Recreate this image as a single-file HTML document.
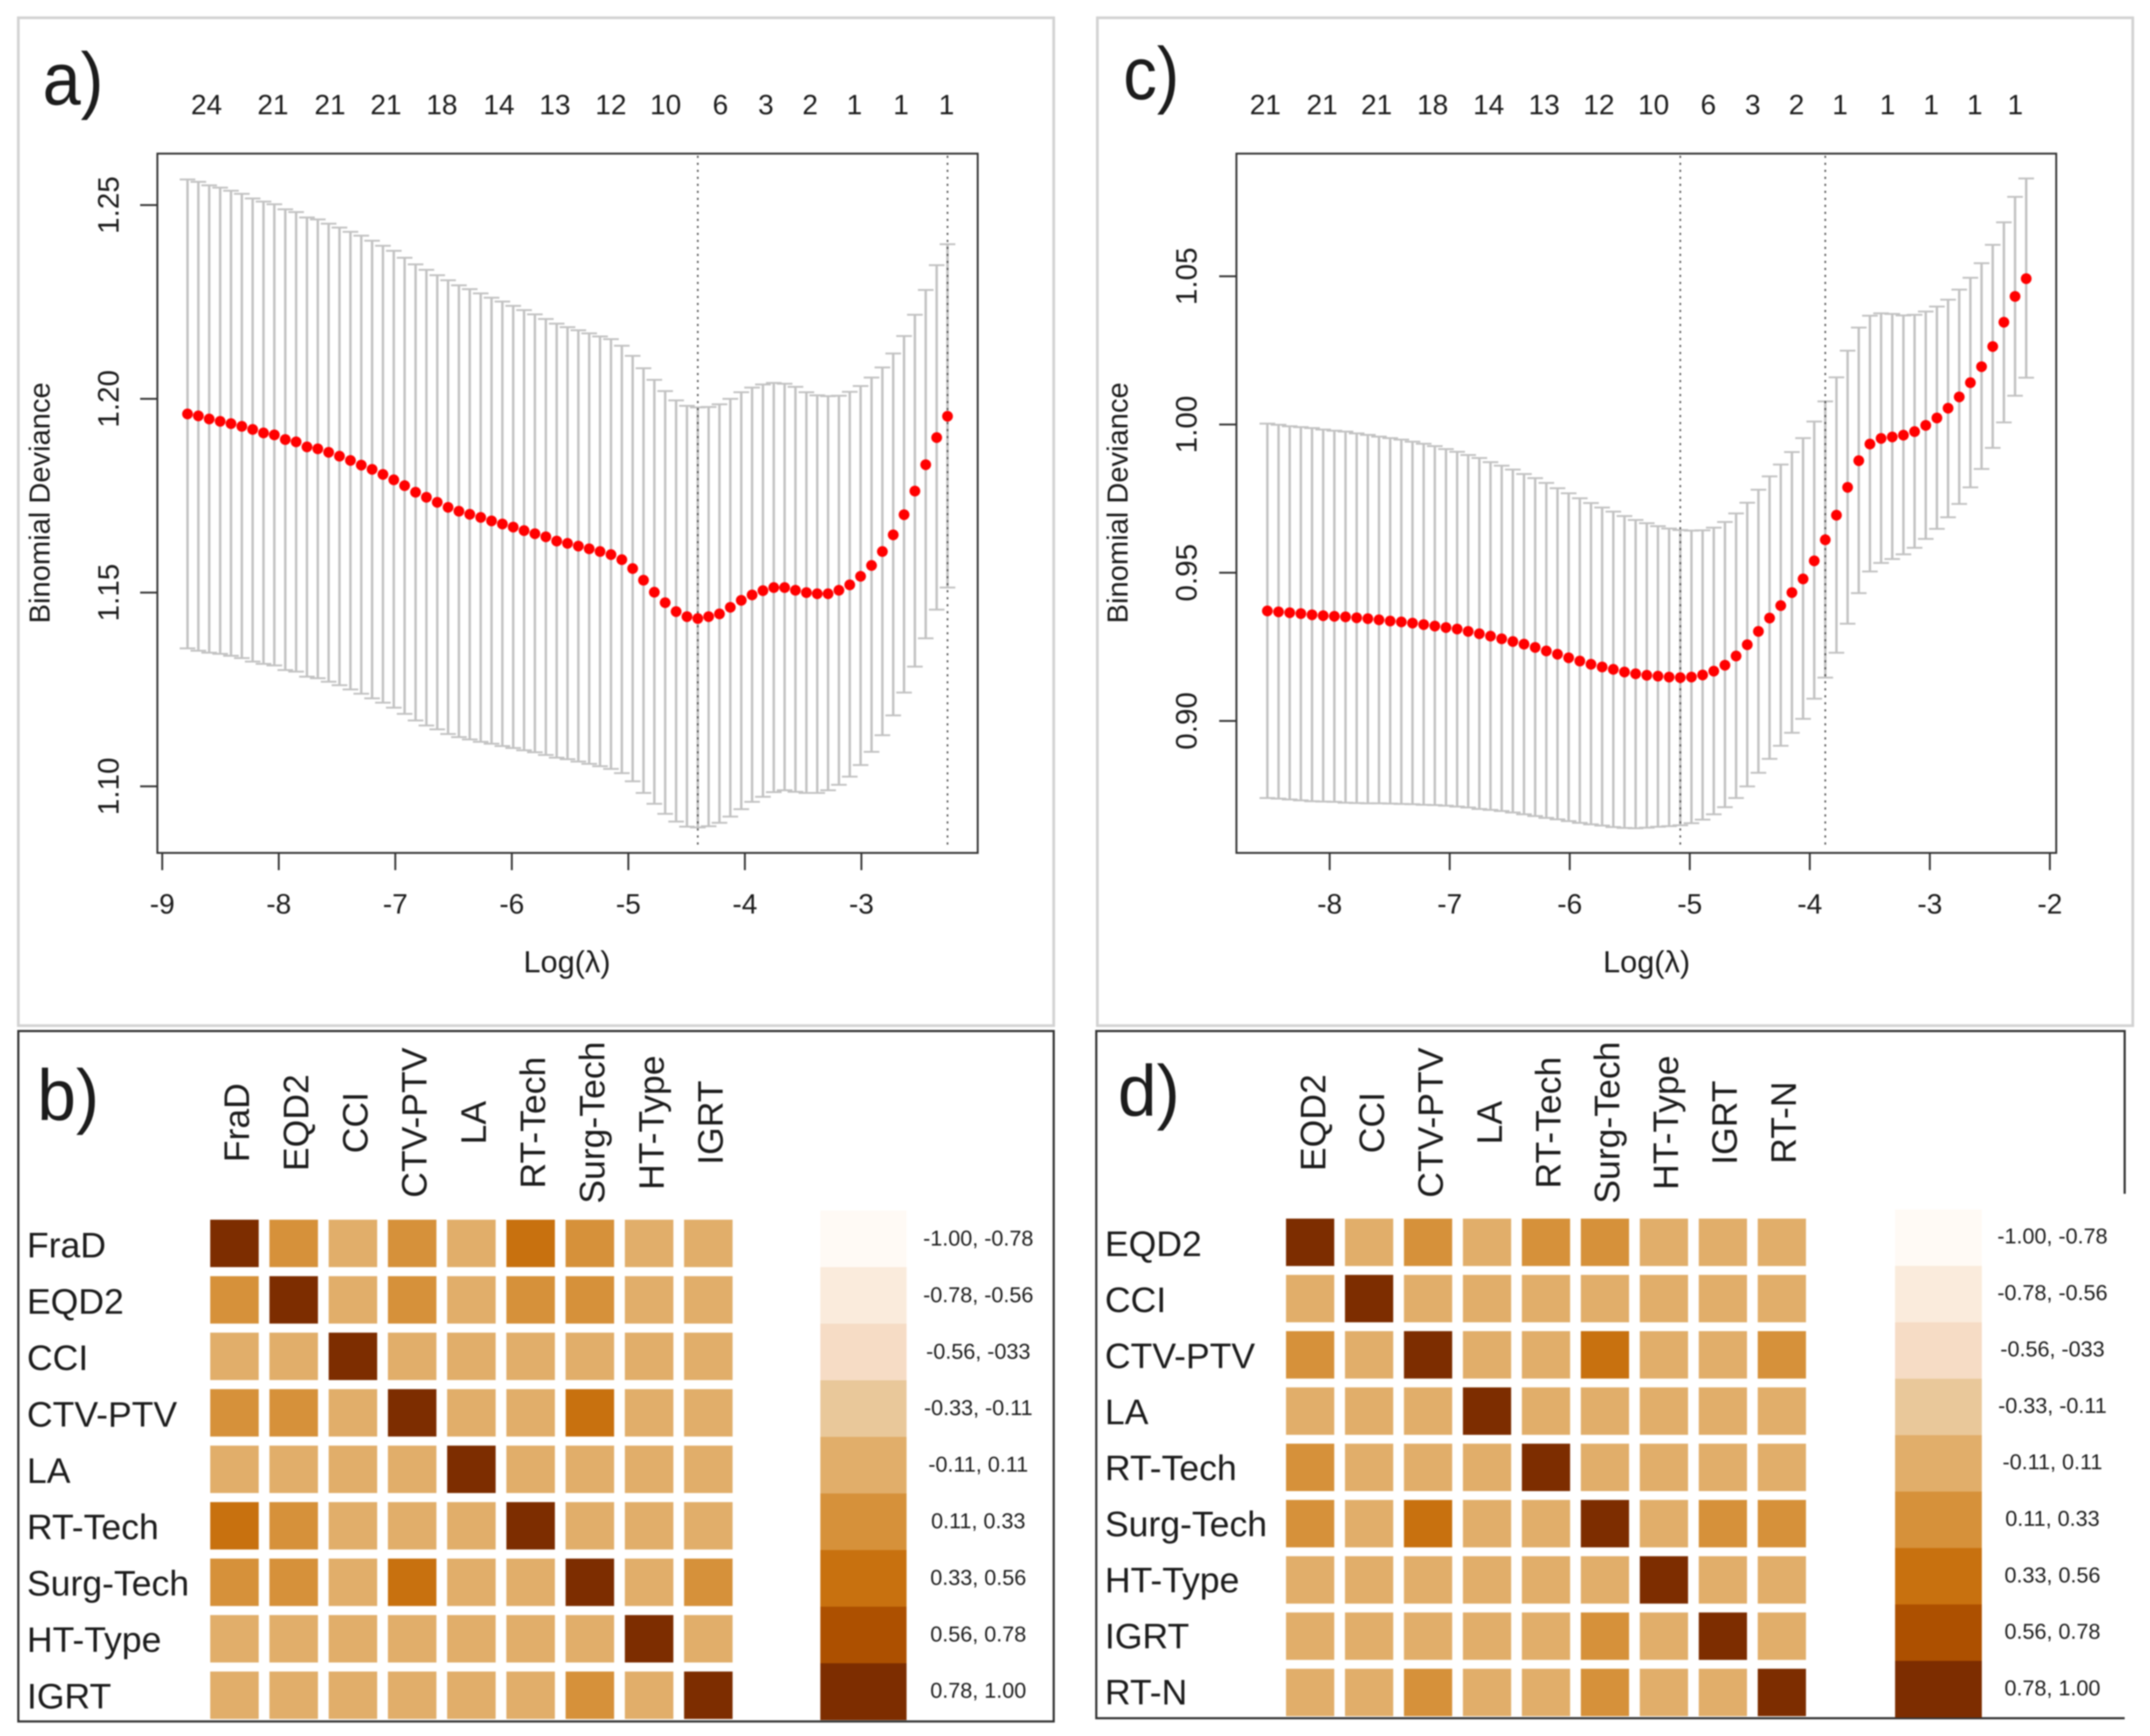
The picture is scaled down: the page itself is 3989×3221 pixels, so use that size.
<!DOCTYPE html>
<html lang="en">
<head>
<meta charset="utf-8">
<title>Lasso cross-validation curves and correlation matrices</title>
<style>
html,body{margin:0;padding:0;background:#fff;width:3989px;height:3221px;overflow:hidden}
svg{display:block;filter:blur(1.4px)}
text{font-family:"Liberation Sans",sans-serif;fill:#1c1c1c}
</style>
</head>
<body>
<svg id="figure" xmlns="http://www.w3.org/2000/svg" width="3989" height="3221" viewBox="0 0 3989 3221">
  <rect x="0" y="0" width="3989" height="3221" fill="#fff"/>
  <rect x="34" y="33" width="1921" height="1870" fill="#fff" stroke="#d2d2d2" stroke-width="5"/>
  <rect x="2036" y="33" width="1921" height="1870" fill="#fff" stroke="#d2d2d2" stroke-width="5"/>
  <rect x="34" y="1913" width="1921" height="1281" fill="#fff" stroke="#333" stroke-width="4"/>
  <path d="M3942 2215V1913H2034V3188H3942" fill="#fff" stroke="#333" stroke-width="4"/>
  <text x="79" y="194" font-size="138" textLength="113" lengthAdjust="spacingAndGlyphs">a)</text>
  <text x="2084" y="184" font-size="138" textLength="104" lengthAdjust="spacingAndGlyphs">c)</text>
  <text x="69" y="2078" font-size="134" textLength="115" lengthAdjust="spacingAndGlyphs">b)</text>
  <text x="2074" y="2070" font-size="134" textLength="115" lengthAdjust="spacingAndGlyphs">d)</text>
  <g id="chart-a"></g>
  <g id="chart-c"></g>
  <g id="heat-b"></g>
  <g id="heat-d"></g>
</svg>
<script>
// ---------- Panel a data ----------
const aLogLambda = [-8.783,-8.690,-8.597,-8.503,-8.410,-8.317,-8.224,-8.131,-8.038,-7.944,-7.851,-7.758,-7.665,-7.572,-7.479,-7.385,-7.292,-7.199,-7.106,-7.013,-6.920,-6.826,-6.733,-6.640,-6.547,-6.454,-6.361,-6.267,-6.174,-6.081,-5.988,-5.895,-5.802,-5.708,-5.615,-5.522,-5.429,-5.336,-5.243,-5.149,-5.056,-4.963,-4.870,-4.777,-4.684,-4.590,-4.497,-4.404,-4.311,-4.218,-4.125,-4.031,-3.938,-3.845,-3.752,-3.659,-3.566,-3.472,-3.379,-3.286,-3.193,-3.100,-3.007,-2.913,-2.820,-2.727,-2.634,-2.541,-2.448,-2.354,-2.261];
const aMean = [1.1961,1.1956,1.1948,1.1942,1.1936,1.1929,1.1921,1.1912,1.1907,1.1895,1.1889,1.1876,1.1871,1.1862,1.1852,1.1841,1.1829,1.1818,1.1805,1.1791,1.1776,1.1759,1.1746,1.1733,1.1720,1.1710,1.1702,1.1694,1.1685,1.1677,1.1669,1.1660,1.1652,1.1644,1.1633,1.1627,1.1620,1.1613,1.1606,1.1598,1.1585,1.1562,1.1532,1.1501,1.1474,1.1451,1.1438,1.1433,1.1438,1.1445,1.1462,1.1480,1.1494,1.1505,1.1513,1.1513,1.1506,1.1500,1.1497,1.1497,1.1506,1.1520,1.1542,1.1570,1.1606,1.1649,1.1701,1.1762,1.1830,1.1900,1.1955];
const aUpper = [1.2566,1.2560,1.2551,1.2545,1.2537,1.2529,1.2517,1.2509,1.2502,1.2489,1.2482,1.2468,1.2463,1.2452,1.2442,1.2431,1.2421,1.2408,1.2395,1.2382,1.2364,1.2347,1.2333,1.2319,1.2306,1.2293,1.2283,1.2272,1.2261,1.2251,1.2240,1.2229,1.2218,1.2206,1.2194,1.2185,1.2177,1.2169,1.2161,1.2154,1.2137,1.2111,1.2079,1.2049,1.2020,1.1996,1.1982,1.1978,1.1979,1.1986,1.2000,1.2017,1.2029,1.2037,1.2041,1.2039,1.2031,1.2017,1.2009,1.2007,1.2008,1.2018,1.2033,1.2055,1.2081,1.2117,1.2162,1.2217,1.2281,1.2345,1.2399];
const aLower = [1.1356,1.1350,1.1345,1.1342,1.1337,1.1331,1.1322,1.1316,1.1312,1.1300,1.1296,1.1283,1.1279,1.1270,1.1261,1.1250,1.1239,1.1227,1.1216,1.1203,1.1187,1.1170,1.1157,1.1147,1.1135,1.1127,1.1121,1.1115,1.1110,1.1104,1.1099,1.1093,1.1088,1.1081,1.1074,1.1070,1.1064,1.1058,1.1052,1.1045,1.1034,1.1013,1.0983,1.0955,1.0929,1.0909,1.0896,1.0894,1.0897,1.0906,1.0922,1.0941,1.0960,1.0973,1.0985,1.0990,1.0986,1.0983,1.0983,1.0990,1.1004,1.1025,1.1055,1.1089,1.1132,1.1183,1.1242,1.1309,1.1382,1.1456,1.1513];
const aXTicks = [-9,-8,-7,-6,-5,-4,-3];
const aYTicks = [1.10,1.15,1.20,1.25];
const aTopAt = [-8.62,-8.05,-7.56,-7.08,-6.60,-6.11,-5.63,-5.15,-4.68,-4.21,-3.82,-3.44,-3.06,-2.66,-2.27];
const aTopCounts = [24,21,21,21,18,14,13,12,10,6,3,2,1,1,1];
const aVLines = [-4.404,-2.261];

// ---------- Panel c data ----------
const cLogLambda = [-8.519,-8.426,-8.333,-8.240,-8.147,-8.054,-7.961,-7.868,-7.775,-7.682,-7.589,-7.496,-7.403,-7.310,-7.217,-7.124,-7.031,-6.938,-6.846,-6.753,-6.660,-6.567,-6.474,-6.381,-6.288,-6.195,-6.102,-6.009,-5.916,-5.823,-5.730,-5.637,-5.544,-5.451,-5.358,-5.265,-5.172,-5.079,-4.986,-4.893,-4.800,-4.707,-4.614,-4.521,-4.428,-4.335,-4.242,-4.149,-4.056,-3.963,-3.871,-3.778,-3.685,-3.592,-3.499,-3.406,-3.313,-3.220,-3.127,-3.034,-2.941,-2.848,-2.755,-2.662,-2.569,-2.476,-2.383,-2.290,-2.197];
const cMean = [0.9371,0.9368,0.9365,0.9362,0.9358,0.9355,0.9353,0.9351,0.9348,0.9345,0.9341,0.9337,0.9334,0.9330,0.9325,0.9320,0.9315,0.9310,0.9302,0.9294,0.9286,0.9277,0.9268,0.9259,0.9248,0.9236,0.9225,0.9213,0.9202,0.9191,0.9182,0.9174,0.9165,0.9159,0.9154,0.9151,0.9148,0.9146,0.9148,0.9155,0.9168,0.9188,0.9219,0.9257,0.9302,0.9347,0.9389,0.9433,0.9479,0.9540,0.9611,0.9694,0.9788,0.9878,0.9934,0.9953,0.9958,0.9964,0.9976,0.9997,1.0022,1.0055,1.0093,1.0141,1.0195,1.0263,1.0345,1.0432,1.0492];
const cUpper = [1.0003,0.9999,0.9994,0.9991,0.9988,0.9983,0.9979,0.9976,0.9970,0.9965,0.9959,0.9954,0.9949,0.9942,0.9935,0.9927,0.9917,0.9908,0.9897,0.9887,0.9873,0.9861,0.9848,0.9833,0.9819,0.9803,0.9785,0.9768,0.9751,0.9735,0.9720,0.9706,0.9691,0.9678,0.9667,0.9657,0.9649,0.9644,0.9642,0.9643,0.9652,0.9671,0.9700,0.9736,0.9780,0.9825,0.9865,0.9907,0.9954,1.0010,1.0078,1.0159,1.0249,1.0327,1.0367,1.0375,1.0373,1.0368,1.0370,1.0381,1.0398,1.0421,1.0455,1.0495,1.0544,1.0606,1.0682,1.0768,1.0830];
const cLower = [0.8740,0.8738,0.8735,0.8732,0.8729,0.8728,0.8727,0.8724,0.8723,0.8722,0.8722,0.8721,0.8720,0.8719,0.8717,0.8716,0.8714,0.8711,0.8708,0.8703,0.8700,0.8696,0.8691,0.8685,0.8679,0.8673,0.8668,0.8662,0.8656,0.8651,0.8647,0.8642,0.8639,0.8638,0.8640,0.8643,0.8645,0.8648,0.8655,0.8667,0.8685,0.8709,0.8740,0.8779,0.8825,0.8872,0.8916,0.8960,0.9007,0.9075,0.9146,0.9230,0.9328,0.9431,0.9504,0.9533,0.9546,0.9562,0.9584,0.9614,0.9648,0.9687,0.9732,0.9788,0.9850,0.9921,1.0007,1.0097,1.0158];
const cXTicks = [-8,-7,-6,-5,-4,-3,-2];
const cYTicks = [0.90,0.95,1.00,1.05];
const cTopAt = [-8.536,-8.063,-7.609,-7.142,-6.675,-6.213,-5.757,-5.301,-4.845,-4.475,-4.111,-3.748,-3.352,-2.989,-2.625,-2.288];
const cTopCounts = [21,21,21,18,14,13,12,10,6,3,2,1,1,1,1,1];
const cVLines = [-5.079,-3.871];

// ---------- Heatmap data ----------
const bVars = ["FraD","EQD2","CCI","CTV-PTV","LA","RT-Tech","Surg-Tech","HT-Type","IGRT"];
const bCorr = [
 [1,.2,0,.2,0,.45,.2,0,0],
 [.2,1,0,.2,0,.2,.2,0,0],
 [0,0,1,0,0,0,0,0,0],
 [.2,.2,0,1,0,0,.45,0,0],
 [0,0,0,0,1,0,0,0,0],
 [.45,.2,0,0,0,1,0,0,0],
 [.2,.2,0,.45,0,0,1,0,.2],
 [0,0,0,0,0,0,0,1,0],
 [0,0,0,0,0,0,.2,0,1]
];
const dVars = ["EQD2","CCI","CTV-PTV","LA","RT-Tech","Surg-Tech","HT-Type","IGRT","RT-N"];
const dCorr = [
 [1,0,.2,0,.2,.2,0,0,0],
 [0,1,0,0,0,0,0,0,0],
 [.2,0,1,0,0,.45,0,0,.2],
 [0,0,0,1,0,0,0,0,0],
 [.2,0,0,0,1,0,0,0,0],
 [.2,0,.45,0,0,1,0,.2,.2],
 [0,0,0,0,0,0,1,0,0],
 [0,0,0,0,0,.2,0,1,0],
 [0,0,.2,0,0,.2,0,0,1]
];
const binBreaks = [-1,-.78,-.56,-.33,-.11,.11,.33,.56,.78,1];
const binColors = ["#fffaf5","#faebdc","#f6dcc5","#e9c89a","#e1ae6a","#d6913a","#c8710f","#ad5000","#7d2d00"];
const binLabels = ["-1.00, -0.78","-0.78, -0.56","-0.56, -033","-0.33, -0.11","-0.11, 0.11","0.11, 0.33","0.33, 0.56","0.56, 0.78","0.78, 1.00"];

const NS = "http://www.w3.org/2000/svg";
function mk(parent, tag, attrs, txt){
  const e = document.createElementNS(NS, tag);
  for (const k in attrs) e.setAttribute(k, attrs[k]);
  if (txt !== undefined) e.textContent = txt;
  parent.appendChild(e);
  return e;
}

function drawCV(o){
  const g = document.getElementById(o.id);
  const X = v => o.x0 + (v - o.xRef) * o.xK;
  const Y = v => o.y0 + (o.yRef - v) * o.yK;
  const FS = 52;

  o.logs.forEach((l, i) => {
    const x = X(l), yu = Y(o.upper[i]), yl = Y(o.lower[i]);
    const bar = mk(g, "line", {x1:x, x2:x, y1:yu, y2:yl, stroke:"#c2c2c2", "stroke-width":4.5});
    
    
    const capU = mk(g, "line", {x1:x-14.5, x2:x+14.5, y1:yu, y2:yu, stroke:"#c2c2c2", "stroke-width":3.5});
    
    
    const capL = mk(g, "line", {x1:x-14.5, x2:x+14.5, y1:yl, y2:yl, stroke:"#c2c2c2", "stroke-width":3.5});
    
    
  });

  o.vlines.forEach(v => {
    const vl = mk(g, "line", {x1:X(v), x2:X(v), y1:o.top+4, y2:o.bottom-8, stroke:"#555", "stroke-width":3, "stroke-dasharray":"4 9"});
    
    
  });

  o.logs.forEach((l, i) => {
    const dot = mk(g, "circle", {cx:X(l), cy:Y(o.mean[i]), r:10, fill:"#ff0000"});
    
    
  });

  const box = mk(g, "rect", {x:o.left, y:o.top, width:o.right-o.left, height:o.bottom-o.top, fill:"none", stroke:"#333", "stroke-width":3.5});
  
  

  o.xTicks.forEach(t => {
    const tk = mk(g, "line", {x1:X(t), x2:X(t), y1:o.bottom, y2:o.bottom+32, stroke:"#333", "stroke-width":3.5});
    
    
    const lb = mk(g, "text", {x:X(t), y:1695, "font-size":FS, "text-anchor":"middle"}, String(t));
    
    
  });

  o.yTicks.forEach(t => {
    const tk = mk(g, "line", {x1:o.left-32, x2:o.left, y1:Y(t), y2:Y(t), stroke:"#333", "stroke-width":3.5});
    
    
    const lb = mk(g, "text", {transform:`translate(${o.yLabelX},${Y(t)}) rotate(-90)`, "font-size":55, "text-anchor":"middle"}, t.toFixed(2));
    
    
  });

  o.topAt.forEach((p, i) => {
    const lb = mk(g, "text", {x:X(p), y:212, "font-size":FS, "text-anchor":"middle"}, String(o.topCounts[i]));
    
    
  });

  const yt = mk(g, "text", {transform:`translate(${o.yTitleX},933) rotate(-90)`, "font-size":54, "text-anchor":"middle"}, "Binomial Deviance");
  
  
  const xt = mk(g, "text", {x:o.xTitleX, y:1804, "font-size":57, "text-anchor":"middle"}, "Log(\u03BB)");
  
  
}

drawCV({id:"chart-a", logs:aLogLambda, mean:aMean, upper:aUpper, lower:aLower,
  xTicks:aXTicks, yTicks:aYTicks, topAt:aTopAt, topCounts:aTopCounts, vlines:aVLines,
  left:292, right:1814, top:285, bottom:1582.5,
  x0:301, xRef:-9, xK:216.2, y0:380.5, yRef:1.25, yK:7190,
  yLabelX:220, yTitleX:92, xTitleX:1052});

drawCV({id:"chart-c", logs:cLogLambda, mean:cMean, upper:cUpper, lower:cLower,
  xTicks:cXTicks, yTicks:cYTicks, topAt:cTopAt, topCounts:cTopCounts, vlines:cVLines,
  left:2294, right:3815, top:285, bottom:1582.5,
  x0:2467, xRef:-8, xK:222.7, y0:512.6, yRef:1.05, yK:5500,
  yLabelX:2220, yTitleX:2092, xTitleX:3055});

function binOf(v){
  for (let k = 0; k < binColors.length; k++) if (v <= binBreaks[k+1]) return k;
  return binColors.length - 1;
}

function drawHeat(o){
  const g = document.getElementById(o.id);
  o.vars.forEach((name, i) => {
    const rl = mk(g, "text", {x:o.rowX, y:o.rowY + i*o.rowP, "font-size":66}, name);
    
    
    const cl = mk(g, "text", {transform:`translate(${o.colB + i*o.colBP},2083) rotate(-90)`, "font-size":66, "text-anchor":"middle"}, name);
    
    
  });
  o.corr.forEach((row, r) => row.forEach((v, c) => {
    const cell = mk(g, "rect", {x:o.cellX + c*o.cellPX, y:o.cellY + r*o.cellPY, width:o.cellW, height:o.cellH, fill:binColors[binOf(v)]});
    
    
  }));
  binColors.forEach((col, k) => {
    const sw = mk(g, "rect", {x:o.legX, y:o.legY + k*o.legP, width:o.legW, height:o.legP+0.5, fill:col});
    
    
    const lb = mk(g, "text", {x:o.legTX, y:o.legTY + k*o.legTP, "font-size":40, "text-anchor":"middle"}, binLabels[k]);
    
    
  });
}

drawHeat({id:"heat-b", vars:bVars, corr:bCorr,
  rowX:50, rowY:2333, rowP:104.6, colB:462, colBP:109.9,
  cellX:390, cellY:2263, cellPX:109.9, cellPY:104.8, cellW:90, cellH:88,
  legX:1522, legY:2246, legP:105, legW:160, legTX:1815, legTY:2311, legTP:104.9});

drawHeat({id:"heat-d", vars:dVars, corr:dCorr,
  rowX:2050, rowY:2330.6, rowP:104, colB:2459, colBP:109.1,
  cellX:2386, cellY:2261, cellPX:109.4, cellPY:104.4, cellW:89.5, cellH:88,
  legX:3516, legY:2244, legP:104.7, legW:161, legTX:3808, legTY:2307, legTP:104.8});
</script>
</body>
</html>
